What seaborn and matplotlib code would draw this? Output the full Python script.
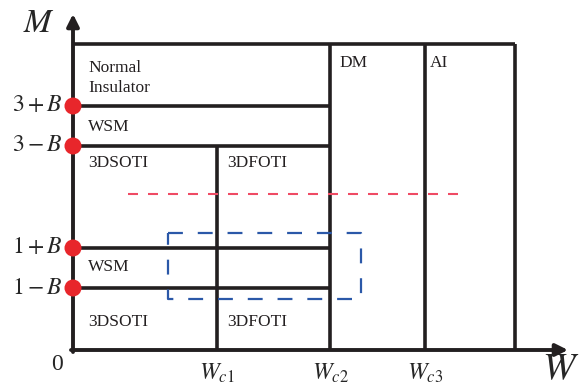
import pandas as pd
import matplotlib
matplotlib.use("Agg")
import matplotlib.pyplot as plt
import seaborn as sns

# ---- diagram values (W along x, M along y) ----
w_crit = [1.44, 2.57, 3.52]          # W_c1, W_c2, W_c3
w_crit_labels = [r"$W_{c1}$", r"$W_{c2}$", r"$W_{c3}$"]
w_max = 4.42
m_levels = [0.62, 1.02, 2.04, 2.44]  # 1-B, 1+B, 3-B, 3+B
m_labels = [r"$1-B$", r"$1+B$", r"$3-B$", r"$3+B$"]
m_top = 3.06

# dashed guide line and dashed box
red_w = [0.55, 3.90]
red_m = [1.56, 1.56]
box_w = [0.95, 2.88, 2.88, 0.95, 0.95]
box_m = [1.17, 1.17, 0.51, 0.51, 1.17]

# phase labels: (W, M, text)
phase_text = [
    (0.15, 2.72, "Normal\nInsulator"),
    (0.15, 2.23, "WSM"),
    (0.15, 1.87, "3DSOTI"),
    (1.54, 1.87, "3DFOTI"),
    (2.66, 2.87, "DM"),
    (3.57, 2.87, "AI"),
    (0.15, 0.83, "WSM"),
    (0.15, 0.28, "3DSOTI"),
    (1.54, 0.28, "3DFOTI"),
]

BLACK = "#231f20"
RED = "#e8262b"

sns.set_theme(style="white")
plt.rcParams["font.family"] = ["Liberation Serif", "DejaVu Serif"]
plt.rcParams["mathtext.fontset"] = "stix"

fig = plt.figure(figsize=(5.81, 3.88), dpi=100)
ax = fig.add_axes([0, 0, 1, 1])
ax.set_xlim(-0.73, 5.08)
ax.set_ylim(-0.38, 3.50)
ax.axis("off")

# ---- phase boundaries ----
ax.hlines(m_top, 0, w_max, color=BLACK, lw=2.6)
ax.hlines(m_levels, 0, w_crit[1], color=BLACK, lw=2.6)
ax.vlines(w_crit[0], 0, m_levels[2], color=BLACK, lw=2.6)
ax.vlines([w_crit[1], w_crit[2], w_max], 0, m_top, color=BLACK, lw=2.6)

# ---- axes with arrows ----
ax.annotate("", xy=(4.95, 0), xytext=(-0.02, 0),
            arrowprops=dict(arrowstyle="-|>", color=BLACK, lw=2.8,
                            mutation_scale=18, shrinkA=0, shrinkB=0))
ax.annotate("", xy=(0, 3.36), xytext=(0, -0.02),
            arrowprops=dict(arrowstyle="-|>", color=BLACK, lw=2.8,
                            mutation_scale=18, shrinkA=0, shrinkB=0))

# ---- dashed guides ----
sns.lineplot(x=red_w, y=red_m, ax=ax, color="#ef4b64", lw=1.5,
             sort=False, estimator=None)
ax.lines[-1].set_dashes((4.8, 4.8))
sns.lineplot(x=box_w, y=box_m, ax=ax, color="#2b58a8", lw=1.6,
             sort=False, estimator=None)
ax.lines[-1].set_dashes((6.7, 6.7))

# ---- critical points on M axis ----
dots = pd.DataFrame({"W": [0.0] * len(m_levels), "M": m_levels})
sns.scatterplot(data=dots, x="W", y="M", ax=ax, color=RED, s=150,
                edgecolor="none", zorder=5, clip_on=False)

# ---- labels ----
for m, lab in zip(m_levels, m_labels):
    ax.text(-0.1, m, lab, ha="right", va="center", fontsize=17)
ax.text(-0.1, -0.15, "0", ha="right", va="center", fontsize=17)
for w, lab in zip(w_crit, w_crit_labels):
    ax.text(w, -0.12, lab, ha="center", va="top", fontsize=17)
ax.text(-0.34, 3.26, r"$M$", ha="center", va="center", fontsize=24)
ax.text(4.88, -0.38, r"$W$", ha="center", va="bottom", fontsize=28)

for w, m, s in phase_text:
    ax.text(w, m, s, ha="left", va="center", fontsize=12.5,
            color=BLACK, linespacing=1.3)

fig.savefig("out.png", dpi=100)
